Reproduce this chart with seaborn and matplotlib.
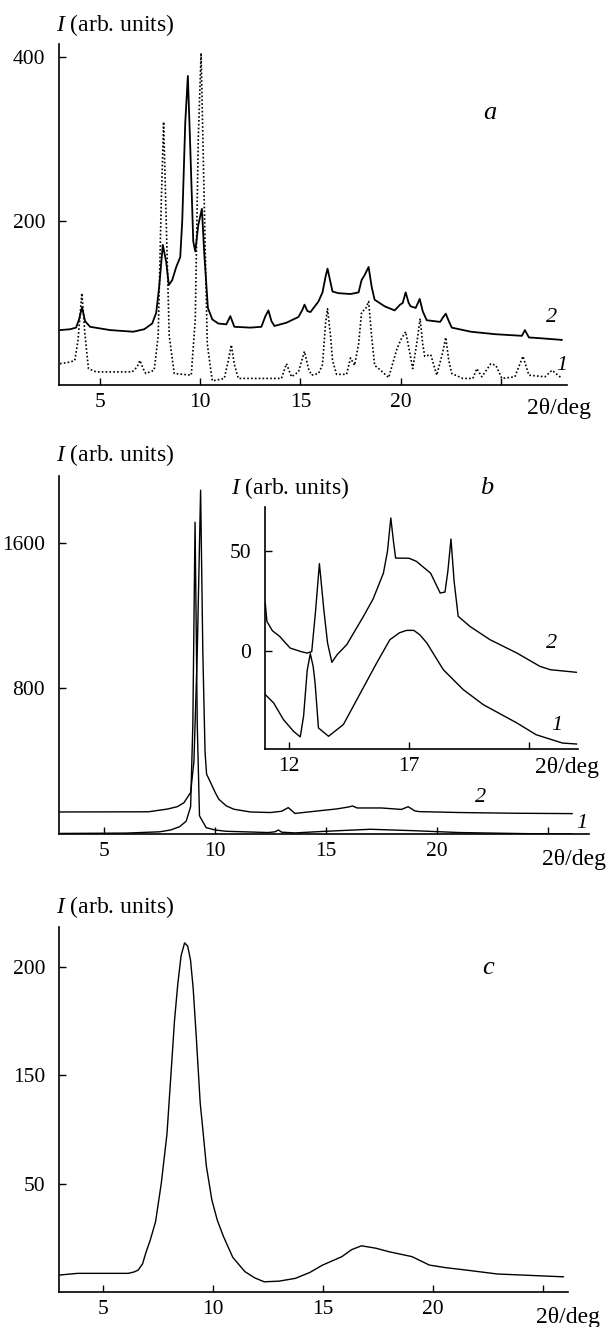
import matplotlib
matplotlib.use("Agg")
import matplotlib.pyplot as plt
import seaborn as sns
import numpy as np
import pandas as pd

# ---------------- data ----------------
# Panel a
theta_a2 = [3.0, 3.5, 3.8, 3.95, 4.1, 4.25, 4.5, 5.5, 6.65, 7.2, 7.6, 7.8, 7.95, 8.13, 8.3, 8.43, 8.6, 8.8, 9.0,
            9.1, 9.25, 9.38, 9.5, 9.65, 9.75, 9.9, 10.08, 10.2, 10.38, 10.6, 10.9, 11.3, 11.5, 11.7, 12.5,
            13.05, 13.25, 13.4, 13.55, 13.7, 14.3, 14.9, 15.1, 15.2, 15.35, 15.5, 15.9, 16.1, 16.25, 16.35,
            16.5, 16.6, 16.9, 17.5, 17.9, 18.05, 18.2, 18.4, 18.55, 18.7, 19.2, 19.7, 19.97, 20.1, 20.25,
            20.4, 20.5, 20.75, 20.95, 21.1, 21.3, 21.97, 22.1, 22.25, 22.4, 22.55, 23.5, 24.7, 26.05, 26.2,
            26.4, 27.0, 28.05]
I_a2 = [67, 68, 70, 80, 95, 78, 71, 67, 65, 68, 75, 88, 120, 171, 150, 122, 128, 144, 156,
        200, 320, 377, 290, 175, 163, 195, 215, 160, 94, 80, 75, 74, 84, 71, 70,
        71, 84, 91, 78, 72, 76, 83, 92, 98, 90, 89, 102, 113, 132, 142,
        125, 114, 112, 111, 113, 128, 134, 144, 120, 104, 96, 91, 98, 100, 113,
        100, 96, 94, 105, 90, 79, 77, 82, 87, 78, 70, 65, 62, 60, 67,
        58, 57, 55]

theta_a1 = [3.0, 3.5, 3.74, 3.9, 4.09, 4.25, 4.42, 4.8, 6.6, 6.85, 6.99, 7.15, 7.28, 7.7, 7.9, 8.05, 8.17,
            8.3, 8.45, 8.7, 9.55, 9.75, 9.9, 10.04, 10.2, 10.35, 10.6, 11.2, 11.4, 11.55, 11.7, 11.9,
            14.05, 14.3, 14.55, 14.9, 15.2, 15.4, 15.55, 15.9, 16.1, 16.25, 16.35, 16.5, 16.6, 16.8,
            17.3, 17.5, 17.7, 17.9, 18.05, 18.25, 18.4, 18.55, 18.7, 19.0, 19.4, 19.8, 20.0, 20.25,
            20.45, 20.6, 20.8, 20.97, 21.1, 21.2, 21.5, 21.8, 22.1, 22.25, 22.4, 22.55, 23.1, 23.6,
            23.8, 24.05, 24.5, 24.75, 25.05, 25.7, 26.1, 26.4, 27.2, 27.55, 28.05]
I_a1 = [26, 28, 30, 55, 112, 60, 20, 16, 16, 22, 30, 20, 14, 18, 60, 220, 321,
        200, 60, 14, 12, 80, 300, 405, 220, 50, 5, 8, 30, 49, 25, 8,
        8, 26, 10, 16, 41, 20, 12, 14, 25, 75, 93, 60, 30, 13,
        13, 33, 24, 50, 89, 93, 102, 60, 24, 18, 9, 43, 55, 65,
        40, 20, 50, 81, 50, 35, 37, 12, 40, 58, 30, 14, 8, 8,
        20, 10, 26, 24, 8, 10, 35, 12, 10, 18, 8]

# Panel b (main)
theta_b2 = [3.0, 7.0, 7.85, 8.3, 8.6, 8.9, 9.05, 9.2, 9.35, 9.45, 9.55, 9.62, 9.8, 10.0, 10.17, 10.5, 10.85,
            11.6, 12.5, 13.0, 13.3, 13.6, 14.5, 15.5, 16.0, 16.2, 16.4, 17.5, 18.4, 18.7, 19.0, 19.2, 21.0,
            23.5, 26.1]
I_b2 = [121, 122, 137, 150, 172, 228, 400, 1000, 1889, 1000, 450, 329, 283, 230, 191, 155, 136,
        121, 118, 125, 145, 113, 125, 138, 148, 154, 143, 143, 135, 150, 127, 123, 118,
        114, 112]

theta_b1 = [3.0, 6.0, 7.5, 8.0, 8.4, 8.7, 8.9, 9.0, 9.1, 9.2, 9.3, 9.6, 10.0, 10.5, 12.4, 12.7, 12.86, 13.0,
            13.6, 15.0, 17.0, 19.0, 21.0, 24.0, 26.1]
I_b1 = [3, 5, 12, 22, 40, 70, 150, 600, 1713, 600, 100, 35, 22, 15, 8, 12, 22, 10,
        6, 15, 26, 18, 8, 2, 0]

# Panel b (inset)
theta_in2 = [11.0, 11.07, 11.3, 11.6, 12.04, 12.5, 12.74, 12.94, 13.1, 13.26, 13.45, 13.6, 13.78, 14.0,
             14.4, 15.1, 15.5, 15.93, 16.1, 16.24, 16.35, 16.44, 17.0, 17.3, 17.6, 17.9, 18.3, 18.5,
             18.62, 18.75, 18.88, 19.05, 19.54, 20.38, 21.5, 22.46, 22.9, 23.99]
I_in2 = [24, 14.7, 10, 7.2, 1.3, -0.5, -1.2, -0.5, 20, 43.8, 20, 3.9, -5.9, -2,
         3, 17.3, 26, 39, 50, 66.8, 55, 46.6, 46.5, 45, 42, 39, 29, 29.5,
         40, 56.2, 35, 17.3, 12.2, 5.5, -1.2, -7.9, -9.6, -10.9]

theta_in1 = [11.0, 11.35, 11.76, 12.18, 12.46, 12.6, 12.75, 12.88, 13.0, 13.08, 13.22, 13.64, 14.26,
             14.82, 15.65, 16.2, 16.6, 16.9, 17.2, 17.45, 17.74, 18.43, 19.26, 20.1, 21.5, 22.3, 23.4, 24.0]
I_in1 = [-22.1, -26.3, -34.7, -40.6, -43.4, -33, -10, -1.5, -8, -16.3, -38.9, -43.1, -37.2,
         -24.7, -6.2, 5.5, 9, 10.2, 10.2, 8, 3.9, -9.6, -19.6, -27.2, -36.4, -42.3, -46.5, -47]

# Panel c
theta_c = [3.0, 3.85, 6.15, 6.4, 6.6, 6.8, 6.94, 7.15, 7.39, 7.65, 7.91, 8.1, 8.25, 8.4, 8.55, 8.71, 8.85,
           8.98, 9.1, 9.24, 9.42, 9.5, 9.7, 9.95, 10.2, 10.48, 10.9, 11.45, 11.9, 12.33, 13.0, 13.75, 14.4,
           14.98, 15.86, 16.3, 16.75, 17.4, 17.99, 19.05, 19.84, 20.6, 21.52, 22.93, 25.94]
I_c = [57.8, 58.6, 58.6, 59.2, 60.1, 63, 67.8, 74, 82.4, 100.1, 123, 152, 175, 192, 205, 211, 209.5,
       203, 190, 167.7, 137, 129, 108, 92.4, 83, 75.5, 66, 59.4, 56.5, 54.7, 55, 56.3, 59,
       62.4, 66.3, 69.5, 71.3, 70.2, 68.6, 66.3, 62.4, 61.2, 60.1, 58.3, 57]

xticks_main = [5, 10, 15, 20, 25]
xticklabels_main = ["5", "10", "15", "20", ""]
yticks_a = [200, 400]
yticks_b = [800, 1600]
yticks_in = [0, 50]
xticks_in = [12, 17, 22]
xticklabels_in = ["12", "17", ""]
yticks_c = [100, 150, 200]
yticklabels_c = ["50", "150", "200"]

# ---------------- style ----------------
sns.set_theme(style="ticks")
plt.rcParams["font.family"] = ["Liberation Serif", "DejaVu Serif"]
plt.rcParams["mathtext.fontset"] = "custom"
plt.rcParams["mathtext.it"] = "Liberation Serif:italic"
plt.rcParams["mathtext.rm"] = "Liberation Serif"

FS_TICK = 15.5
FS_LAB = 17
W, H = 608, 1327
fig = plt.figure(figsize=(W / 100, H / 100), dpi=100)
fig.patch.set_facecolor("white")


def px_axes(x0, x1, ytop, ybot):
    return fig.add_axes([x0 / W, 1 - ybot / H, (x1 - x0) / W, (ybot - ytop) / H])


def style(ax):
    for s in ["top", "right"]:
        ax.spines[s].set_visible(False)
    for s in ["left", "bottom"]:
        ax.spines[s].set_linewidth(1.2)
        ax.spines[s].set_color("black")
    ax.set_facecolor("white")
    ax.tick_params(axis="both", direction="in", length=5, width=1.0, colors="black",
                   labelsize=FS_TICK)
    ax.tick_params(axis="x", pad=6)
    ax.tick_params(axis="y", pad=10)
    ax.set_xlabel("")
    ax.set_ylabel("")
    ax.grid(False)


def ftext(x, y, s, **kw):
    kw.setdefault("fontsize", FS_LAB)
    fig.text(x / W, 1 - y / H, s, color="black", **kw)


# Panel a
ax_a = px_axes(59, 567, 44, 385)
sns.lineplot(x=theta_a2, y=I_a2, ax=ax_a, color="black", lw=1.3, estimator=None, sort=False)
sns.lineplot(x=theta_a1, y=I_a1, ax=ax_a, color="black", lw=1.2, estimator=None, sort=False,
             linestyle=(0, (1, 1.3)))
ax_a.set_xlim(2.95, 28.3)
ax_a.set_ylim(0, 416)
ax_a.set_xticks(xticks_main)
ax_a.set_xticklabels(xticklabels_main)
ax_a.set_yticks(yticks_a)
style(ax_a)

# Panel b main
ax_b = px_axes(59, 589, 476, 834)
sns.lineplot(x=theta_b2, y=I_b2, ax=ax_b, color="black", lw=1.0, estimator=None, sort=False)
sns.lineplot(x=theta_b1, y=I_b1, ax=ax_b, color="black", lw=1.0, estimator=None, sort=False)
ax_b.set_xlim(2.97, 26.85)
ax_b.set_ylim(0, 1967)
ax_b.set_xticks(xticks_main)
ax_b.set_xticklabels(xticklabels_main)
ax_b.set_yticks(yticks_b)
style(ax_b)

# Panel b inset
ax_in = px_axes(265, 578, 507, 749)
sns.lineplot(x=theta_in2, y=I_in2, ax=ax_in, color="black", lw=1.0, estimator=None, sort=False)
sns.lineplot(x=theta_in1, y=I_in1, ax=ax_in, color="black", lw=1.0, estimator=None, sort=False)
ax_in.set_xlim(10.99, 24.05)
ax_in.set_ylim(-49.5, 72.3)
ax_in.set_xticks(xticks_in)
ax_in.set_xticklabels(xticklabels_in)
ax_in.set_yticks(yticks_in)
style(ax_in)
ax_in.patch.set_alpha(0)

# Panel c
ax_c = px_axes(59, 568, 927, 1292)
sns.lineplot(x=theta_c, y=I_c, ax=ax_c, color="black", lw=1.0, estimator=None, sort=False)
ax_c.set_xlim(3.0, 26.14)
ax_c.set_ylim(50, 218.3)
ax_c.set_xticks(xticks_main)
ax_c.set_xticklabels(xticklabels_main)
ax_c.set_yticks(yticks_c)
ax_c.set_yticklabels(yticklabels_c)
style(ax_c)

# Labels
ylab = r"$I$ (arb. units)"
ftext(56, 25, ylab, ha="left", va="center")
ftext(56, 455, ylab, ha="left", va="center")
ftext(231, 488, ylab, ha="left", va="center")
ftext(56, 907, ylab, ha="left", va="center")

ftext(559, 408, "2θ/deg", ha="center", va="center")
ftext(574, 860, "2θ/deg", ha="center", va="center")
ftext(567, 768, "2θ/deg", ha="center", va="center")
ftext(568, 1317, "2θ/deg", ha="center", va="center")

ftext(490, 113, "a", ha="center", va="center", style="italic", fontsize=19)
ftext(487, 488, "b", ha="center", va="center", style="italic", fontsize=19)
ftext(488, 968, "c", ha="center", va="center", style="italic", fontsize=19)

ftext(552, 318, "2", ha="center", va="center", style="italic", fontsize=16)
ftext(562, 365, "1", ha="center", va="center", style="italic", fontsize=16)
ftext(481, 797, "2", ha="center", va="center", style="italic", fontsize=16)
ftext(582, 823, "1", ha="center", va="center", style="italic", fontsize=16)
ftext(552, 643, "2", ha="center", va="center", style="italic", fontsize=16)
ftext(557, 725, "1", ha="center", va="center", style="italic", fontsize=16)

fig.savefig("out.png", dpi=100, facecolor="white")
